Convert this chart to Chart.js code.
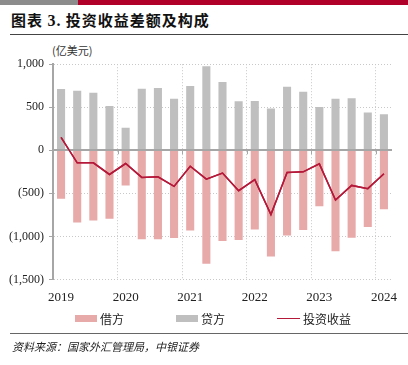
<!DOCTYPE html>
<html>
<head>
<meta charset="utf-8">
<script src="https://cdn.jsdelivr.net/npm/chart.js@4"></script>
<style>
  body { margin: 0; width: 408px; height: 365px; background: #fff; position: relative; overflow: hidden;
         font-family: "Liberation Serif", "Noto Sans CJK SC", serif; }
  .band { position: absolute; top: 0; height: 5px; }
  #title { position: absolute; left: 11px; top: 9px; font-size: 15px; font-weight: bold; color: #111;
           font-family: "Noto Sans CJK SC", sans-serif; letter-spacing: 1px; }
  #title .num { font-family: "Liberation Serif", serif; font-size: 16px; }
  .rule { position: absolute; left: 10px; right: 0; height: 1px; background: #444; }
  #unit { position: absolute; left: 52px; top: 42px; font-size: 11px; color: #333;
          font-family: "Noto Sans CJK SC", sans-serif; }
  #wrap { position: absolute; left: 0; top: 52px; width: 408px; height: 263px; }
  #legend { position: absolute; top: 310px; left: 0; width: 408px; height: 16px; font-size: 12px; color: #222;
            font-family: "Noto Sans CJK SC", sans-serif; }
  .item { position: absolute; top: 0; display: flex; align-items: center; }
  .sw { width: 22px; height: 7px; margin-right: 3px; }
  .ln { width: 23px; height: 1.5px; margin-right: 3px; }
  #source { position: absolute; left: 12px; top: 338px; font-size: 11px; font-style: italic; color: #222;
            font-family: "Noto Sans CJK SC", sans-serif; }
</style>
</head>
<body>
<div class="band" style="left:0;width:78px;background:#8c8c8c"></div>
<div class="band" style="left:78px;right:0;background:#b0002a"></div>
<div id="title">图表 <span class="num">3.</span> 投资收益差额及构成</div>
<div class="rule" style="top:34px"></div>
<div id="unit">(亿美元)</div>
<div id="wrap"><canvas id="chart"></canvas></div>
<div id="legend">
  <div class="item" style="left:75px"><span class="sw" style="background:#e8a9a9"></span>借方</div>
  <div class="item" style="left:176px"><span class="sw" style="background:#bfbfbf"></span>贷方</div>
  <div class="item" style="left:277px"><span class="ln" style="background:#b5193a"></span>投资收益</div>
</div>
<div class="rule" style="top:333px;background:#666"></div>
<div id="source">资料来源：国家外汇管理局，中银证券</div>

<script>
// quarters 2019Q1 - 2024Q1
const quarters = [
  "2019Q1", "2019Q2", "2019Q3", "2019Q4",
  "2020Q1", "2020Q2", "2020Q3", "2020Q4",
  "2021Q1", "2021Q2", "2021Q3", "2021Q4",
  "2022Q1", "2022Q2", "2022Q3", "2022Q4",
  "2023Q1", "2023Q2", "2023Q3", "2023Q4",
  "2024Q1"
];
const debit = [-562, -839, -816, -796, -408, -1035, -1035, -1019, -931, -1319, -1054,
               -1042, -919, -1235, -989, -927, -650, -1173, -1015, -892, -685];
const credit = [712, 692, 669, 515, 262, 715, 723, 600, 746, 977, 792,
                569, 573, 485, 738, 681, 504, 600, 604, 438, 419];
const income = [150, -146, -146, -281, -154, -315, -308, -419, -185, -335, -265,
                -469, -342, -746, -258, -250, -158, -577, -408, -446, -273];
const yTicks = [-1500, -1000, -500, 0, 500, 1000];

function fmt(v) {
    const s = Math.abs(v).toLocaleString("en-US");
    return v < 0 ? "(" + s + ")" : s;
}

// zero line + small year ticks on it
const zeroLine = {
    id: "zeroLine",
    beforeDatasetsDraw(chart) {
        const { ctx, scales } = chart;
        const y0 = scales.y.getPixelForValue(0);
        const half = (scales.x.getPixelForValue(1) - scales.x.getPixelForValue(0)) / 2;
        ctx.save();
        ctx.strokeStyle = "#a6a6a6";
        ctx.lineWidth = 1;
        for (let i = 4; i < quarters.length; i += 4) {
            const x = Math.round(scales.x.getPixelForValue(i) - half) + 0.5;
            ctx.beginPath();
            ctx.moveTo(x, y0);
            ctx.lineTo(x, y0 + 4);
            ctx.stroke();
        }
        ctx.restore();
    },
    afterDatasetsDraw(chart) {
        const { ctx, chartArea, scales } = chart;
        const y0 = Math.round(scales.y.getPixelForValue(0));
        ctx.save();
        ctx.strokeStyle = "#a6a6a6";
        ctx.lineWidth = 2;
        ctx.beginPath();
        ctx.moveTo(chartArea.left, y0);
        ctx.lineTo(chartArea.right, y0);
        ctx.stroke();
        ctx.restore();
        // redraw the line so it sits on top
        chart.getDatasetMeta(0).controller.draw();
    }
};

const ctx = document.getElementById("chart").getContext("2d");

new Chart(ctx, {
    data: {
        labels: quarters,
        datasets: [
            {
                type: "line",
                label: "投资收益",
                data: income,
                borderColor: "#b5193a",
                borderWidth: 1.5,
                pointRadius: 0,
                tension: 0,
                order: 0
            },
            {
                type: "bar",
                label: "借方",
                data: debit,
                backgroundColor: "#e8a9a9",
                barPercentage: 0.5,
                categoryPercentage: 1,
                order: 1
            },
            {
                type: "bar",
                label: "贷方",
                data: credit,
                backgroundColor: "#bfbfbf",
                barPercentage: 0.5,
                categoryPercentage: 1,
                order: 2
            }
        ]
    },
    options: {
        responsive: true,
        maintainAspectRatio: false,
        animation: false,
        layout: { padding: { left: 4, right: 16, top: 6, bottom: 0 } },
        plugins: {
            legend: { display: false },
            tooltip: { enabled: false }
        },
        scales: {
            x: {
                stacked: true,
                offset: true,
                grid: {
                    offset: true,
                    drawTicks: false,
                    color: function (c) {
                        return (c.index > 0 && c.index % 4 === 0 && c.index < quarters.length) ? "#c8c8c8" : "rgba(0,0,0,0)";
                    }
                },
                border: { display: false, dash: [1, 2] },
                ticks: {
                    autoSkip: false,
                    maxRotation: 0,
                    padding: 10,
                    color: "#222",
                    font: { family: "Liberation Serif", size: 13 },
                    callback: function (v, i) {
                        const q = quarters[i];
                        return q.endsWith("Q1") ? q.slice(0, 4) : "";
                    }
                }
            },
            y: {
                stacked: true,
                min: -1500,
                max: 1000,
                afterBuildTicks: function (s) { s.ticks = yTicks.map(v => ({ value: v })); },
                grid: {
                    color: function (c) { return c.tick && c.tick.value === 0 ? "rgba(0,0,0,0)" : "#c8c8c8"; },
                    tickColor: "#a6a6a6",
                    tickLength: 4
                },
                border: { display: true, color: "#a6a6a6", width: 2, dash: [1, 2] },
                ticks: {
                    padding: 5,
                    color: "#222",
                    font: { family: "Liberation Serif", size: 12 },
                    callback: function (v) { return fmt(v); }
                }
            }
        }
    },
    plugins: [zeroLine]
});
</script>
</body>
</html>
